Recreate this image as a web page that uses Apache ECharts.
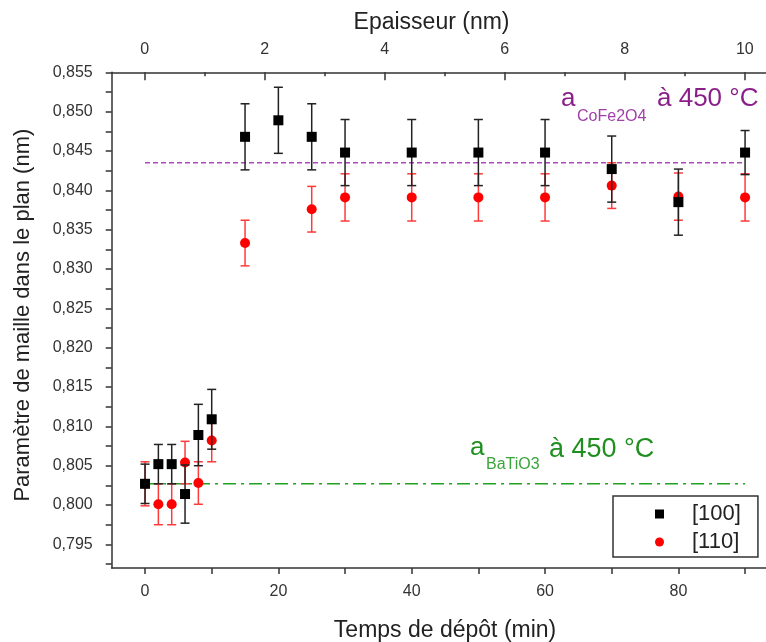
<!DOCTYPE html>
<html><head><meta charset="utf-8">
<script src="https://cdn.jsdelivr.net/npm/echarts@6/dist/echarts.min.js"></script>
<style>html,body{margin:0;padding:0;background:#fff}#c{width:766px;height:642px}</style>
</head><body><div id="c"></div>
<script>
// ---- data ----
const times100 = [0, 2, 4, 6, 8, 10, 15, 20, 25, 30, 40, 50, 60, 70, 80, 90];
const val100 = [0.8027, 0.8052, 0.8052, 0.8014, 0.8089, 0.8109, 0.8468, 0.8489, 0.8468, 0.8448, 0.8448, 0.8448, 0.8448, 0.8427, 0.8385, 0.8448];
const err100 = [0.0025, 0.0025, 0.0025, 0.0037, 0.0039, 0.0038, 0.0042, 0.0042, 0.0042, 0.0042, 0.0042, 0.0042, 0.0042, 0.0042, 0.0042, 0.0028];
const times110 = [0, 2, 4, 6, 8, 10, 15, 25, 30, 40, 50, 60, 70, 80, 90];
const val110 = [0.8027, 0.8001, 0.8001, 0.8054, 0.8028, 0.8082, 0.8333, 0.8376, 0.8391, 0.8391, 0.8391, 0.8391, 0.8406, 0.8392, 0.8391];
const err110 = [0.0028, 0.0026, 0.0026, 0.0027, 0.0027, 0.0027, 0.0029, 0.0029, 0.0030, 0.0030, 0.0030, 0.0030, 0.0029, 0.0030, 0.0030];
const refSpan = [0, 90];
const cofeLevel = 0.8435;
const batioLevel = 0.8027;

// ---- tick labels ----
const xTickValues = [0, 10, 20, 30, 40, 50, 60, 70, 80, 90];
const xLabelValues = [0, 20, 40, 60, 80];
const topLabelValues = [0, 2, 4, 6, 8, 10];
const topMinorValues = [1, 3, 5, 7, 9];
const yLabelValues = [0.795, 0.800, 0.805, 0.810, 0.815, 0.820, 0.825, 0.830, 0.835, 0.840, 0.845, 0.850, 0.855];
const yTickValues = [0.7925, 0.795, 0.7975, 0.800, 0.8025, 0.805, 0.8075, 0.810, 0.8125, 0.815, 0.8175, 0.820, 0.8225, 0.825, 0.8275, 0.830, 0.8325, 0.835, 0.8375, 0.840, 0.8425, 0.845, 0.8475, 0.850, 0.8525, 0.855];

const FF = 'Liberation Sans, Arial, Helvetica, sans-serif';
const AX = '#333';

function errRender(color) {
  return function (params, api) {
    const x = api.value(0), lo = api.value(1), hi = api.value(2);
    const pLo = api.coord([x, lo]), pHi = api.coord([x, hi]);
    const hw = 4.5;
    const style = { stroke: color, lineWidth: 1.5, fill: null };
    return { type: 'group', children: [
      { type: 'line', shape: { x1: pLo[0], y1: pLo[1], x2: pHi[0], y2: pHi[1] }, style: style },
      { type: 'line', shape: { x1: pLo[0] - hw, y1: pLo[1], x2: pLo[0] + hw, y2: pLo[1] }, style: style },
      { type: 'line', shape: { x1: pHi[0] - hw, y1: pHi[1], x2: pHi[0] + hw, y2: pHi[1] }, style: style }
    ] };
  };
}
function refRender(color, dash) {
  return function (params, api) {
    const p1 = api.coord([api.value(0), api.value(2)]);
    const p2 = api.coord([api.value(1), api.value(2)]);
    return { type: 'line', shape: { x1: p1[0], y1: p1[1], x2: p2[0], y2: p2[1] },
      style: { stroke: color, lineWidth: 1.5, lineDash: dash, fill: null } };
  };
}

const chart = echarts.init(document.getElementById('c'), null, { renderer: 'canvas' });
const axisLine = { onZero: false, lineStyle: { color: AX, width: 1.5 } };
const tickStyle = { color: AX, width: 1.5 };
const labelStyle = { fontSize: 16, color: '#333', fontFamily: FF };

chart.setOption({
  animation: false,
  backgroundColor: '#fff',
  textStyle: { fontFamily: FF },
  grid: { left: 111.7, top: 72.3, width: 666.7, height: 495.7, outerBoundsMode: 'none', containLabel: false },
  xAxis: [
    { type: 'value', position: 'bottom', min: -5, max: 95,
      axisLine: axisLine,
      axisTick: { customValues: xTickValues, length: 6, lineStyle: tickStyle },
      axisLabel: { customValues: xLabelValues, margin: 16, ...labelStyle },
      splitLine: { show: false },
      name: 'Temps de dépôt (min)', nameLocation: 'middle', nameGap: 51,
      nameTextStyle: { fontSize: 23, color: '#222', fontFamily: FF } },
    { type: 'value', position: 'top', min: -0.55, max: 10.56,
      axisLine: axisLine,
      axisTick: { customValues: topLabelValues, inside: true, length: 8, lineStyle: tickStyle },
      axisLabel: { customValues: topLabelValues, margin: 15, ...labelStyle },
      splitLine: { show: false },
      name: 'Epaisseur (nm)', nameLocation: 'middle', nameGap: 38,
      nameTextStyle: { fontSize: 23, color: '#222', fontFamily: FF, padding: [0, 27, 0, 0] } },
    { type: 'value', position: 'top', min: -0.55, max: 10.56,
      axisLine: { show: false, onZero: false },
      axisTick: { customValues: topMinorValues, inside: true, length: 4, lineStyle: tickStyle },
      axisLabel: { show: false },
      splitLine: { show: false } }
  ],
  yAxis: [
    { type: 'value', position: 'left', min: 0.792, max: 0.855,
      axisLine: { show: true, onZero: false, lineStyle: { color: AX, width: 1.5 } },
      axisTick: { show: true, customValues: yTickValues, length: 6, lineStyle: tickStyle },
      axisLabel: { customValues: yLabelValues, margin: 19, ...labelStyle,
        formatter: function (v) { return v.toFixed(3).replace('.', ','); } },
      splitLine: { show: false },
      name: 'Paramètre de maille dans le plan (nm)', nameLocation: 'middle', nameGap: 78, nameRotate: 90,
      nameTextStyle: { fontSize: 22, color: '#222', fontFamily: FF, padding: [0, 0, 0, 10] } }
  ],
  legend: {
    data: ['[100]', '[110]'], orient: 'vertical', left: 613, top: 496,
    padding: [7, 17, 4, 42], itemGap: 6, itemWidth: 9, itemHeight: 9,
    borderColor: '#333', borderWidth: 1.5, borderRadius: 0, backgroundColor: '#fff',
    textStyle: { fontSize: 22, color: '#222', fontFamily: FF, padding: [0, 0, 0, 23] }
  },
  series: [
    { name: 'refCoFe', type: 'custom', xAxisIndex: 0, yAxisIndex: 0, silent: true, z: 1,
      renderItem: refRender('#a64bb4', [5, 3]), encode: { x: [0, 1], y: 2 },
      data: [[refSpan[0], refSpan[1], cofeLevel]] },
    { name: 'refBaTiO', type: 'custom', xAxisIndex: 0, yAxisIndex: 0, silent: true, z: 1,
      renderItem: refRender('#22a022', [13, 5, 3, 5]), encode: { x: [0, 1], y: 2 },
      data: [[refSpan[0], refSpan[1], batioLevel]] },
    { name: '[110]', type: 'scatter', xAxisIndex: 0, yAxisIndex: 0, symbol: 'circle', symbolSize: 10, z: 4,
      itemStyle: { color: '#ff0000', opacity: 1 },
      data: times110.map(function (t, i) { return [t, val110[i]]; }) },
    { name: '[100]', type: 'scatter', xAxisIndex: 0, yAxisIndex: 0, symbol: 'rect', symbolSize: 10, z: 6,
      itemStyle: { color: '#000000', opacity: 1 },
      data: times100.map(function (t, i) { return [t, val100[i]]; }) },
    { name: 'err110', type: 'custom', xAxisIndex: 0, yAxisIndex: 0, z: 3,
      renderItem: errRender('#ff3a3a'), encode: { x: 0, y: [1, 2] },
      data: times110.map(function (t, i) { return [t, val110[i] - err110[i], val110[i] + err110[i]]; }) },
    { name: 'err100', type: 'custom', xAxisIndex: 0, yAxisIndex: 0, z: 5,
      renderItem: errRender('#222222'), encode: { x: 0, y: [1, 2] },
      data: times100.map(function (t, i) { return [t, val100[i] - err100[i], val100[i] + err100[i]]; }) }
  ],
  graphic: [
    { type: 'text', x: 561, y: 99, z: 10, style: { text: 'a', fontSize: 26, fontFamily: FF, fill: '#8a1f8a', verticalAlign: 'middle', align: 'left' } },
    { type: 'text', x: 577, y: 116.5, z: 10, style: { text: 'CoFe2O4', fontSize: 16, fontFamily: FF, fill: '#a040a8', verticalAlign: 'middle', align: 'left' } },
    { type: 'text', x: 657, y: 99.3, z: 10, style: { text: 'à 450 °C', fontSize: 26, fontFamily: FF, fill: '#8a1f8a', verticalAlign: 'middle', align: 'left' } },
    { type: 'text', x: 470, y: 447.7, z: 10, style: { text: 'a', fontSize: 26, fontFamily: FF, fill: '#1f8f1f', verticalAlign: 'middle', align: 'left' } },
    { type: 'text', x: 486, y: 464.8, z: 10, style: { text: 'BaTiO3', fontSize: 16, fontFamily: FF, fill: '#3aa53a', verticalAlign: 'middle', align: 'left' } },
    { type: 'text', x: 549, y: 450, z: 10, style: { text: 'à 450 °C', fontSize: 27, fontFamily: FF, fill: '#1f8f1f', verticalAlign: 'middle', align: 'left' } }
  ]
});
</script>
</body></html>
